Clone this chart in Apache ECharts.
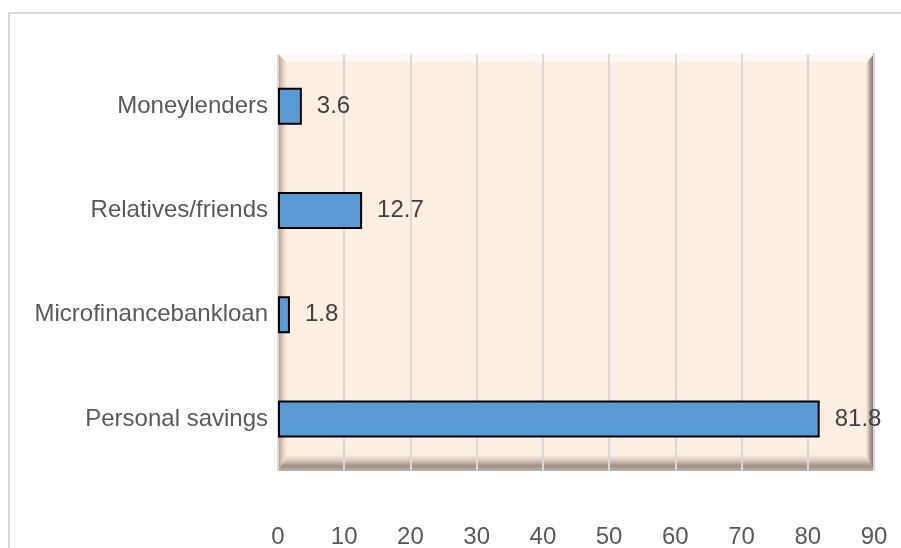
<!DOCTYPE html>
<html>
<head>
<meta charset="utf-8">
<script src="https://cdn.jsdelivr.net/npm/echarts@6/dist/echarts.min.js"></script>
<style>html,body{margin:0;padding:0;background:#fff;}#c{width:901px;height:548px;}</style>
</head>
<body>
<div id="c"></div>
<script>
const categories = ['Personal savings', 'Microfinancebankloan', 'Relatives/friends', 'Moneylenders'];
const values = [81.8, 1.8, 12.7, 3.6];
const xTicks = [0, 10, 20, 30, 40, 50, 60, 70, 80, 90];

const W = 901, H = 548;
const G = {left: 278, right: 27, top: 54, bottom: 77};
const x0 = G.left, x1 = W - G.right, y0 = G.top, y1 = H - G.bottom;
const bL = 9, bT = 9, bR = 8, bB = 16;
const peach = '#fdeee2';

function lin(x, y, x2, y2, stops) {
  return new echarts.graphic.LinearGradient(x, y, x2, y2, stops.map(s => ({offset: s[0], color: s[1]})));
}

const chart = echarts.init(document.getElementById('c'), null, {renderer: 'canvas'});
chart.setOption({
  animation: false,
  backgroundColor: '#ffffff',
  textStyle: {fontFamily: 'Liberation Sans, Arial, sans-serif'},
  graphic: [
    {type: 'rect', z: -10, shape: {x: 9, y: 13, width: 900, height: 560}, style: {fill: 'none', stroke: '#d9d9d9', lineWidth: 2}},
    {type: 'rect', z: -10, shape: {x: x0, y: y0, width: x1 - x0, height: y1 - y0}, style: {fill: peach}},
    {type: 'polygon', z: -9, shape: {points: [[x0, y0], [x1, y0], [x1 - bR, y0 + bT], [x0 + bL, y0 + bT]]},
      style: {fill: lin(0, 0, 0, 1, [[0, '#fff7f0'], [0.6, '#fffaf6'], [1, peach]])}},
    {type: 'polygon', z: -9, shape: {points: [[x0, y0], [x0 + bL, y0 + bT], [x0 + bL, y1 - bB], [x0, y1]]},
      style: {fill: lin(0, 0, 1, 0, [[0, '#a89082'], [0.4, '#d9c4b6'], [1, peach]])}},
    {type: 'polygon', z: -9, shape: {points: [[x0, y1], [x0 + bL, y1 - bB], [x1 - bR, y1 - bB], [x1, y1]]},
      style: {fill: lin(0, 0, 0, 1, [[0, peach], [0.35, '#d8c6ba'], [0.7, '#9f8e84'], [1, '#c2b3a9']])}},
    {type: 'polygon', z: -9, shape: {points: [[x1, y0], [x1, y1], [x1 - bR, y1 - bB], [x1 - bR, y0 + bT]]},
      style: {fill: lin(0, 0, 1, 0, [[0, peach], [0.5, '#b3a195'], [0.8, '#8f8179'], [1, '#6f6a68']])}},
    {type: 'line', z: -8, shape: {x1: x1 - 0.5, y1: y0 - 1, x2: x1 - 0.5, y2: y1}, style: {stroke: '#7a7a7a', lineWidth: 1}}
  ],
  grid: {left: G.left, right: G.right, top: G.top, bottom: G.bottom, containLabel: false, outerBoundsMode: 'none'},
  xAxis: {
    type: 'value', min: 0, max: 90, interval: 10,
    axisLine: {show: false}, axisTick: {show: false},
    splitLine: {show: true, lineStyle: {color: '#d9d9d9', width: 2}},
    axisLabel: {color: '#595959', fontSize: 24, margin: 54,
      formatter: v => xTicks.includes(v) ? String(v) : ''}
  },
  yAxis: {
    type: 'category', data: categories,
    axisLine: {show: false}, axisTick: {show: false}, splitLine: {show: false},
    axisLabel: {color: '#595959', fontSize: 24, margin: 10}
  },
  series: [{
    type: 'bar', data: values, barWidth: 37,
    itemStyle: {color: '#5b9bd5', borderColor: '#000000', borderWidth: 2},
    label: {show: true, position: 'right', distance: 15, color: '#404040', fontSize: 24}
  }]
});
</script>
</body>
</html>
